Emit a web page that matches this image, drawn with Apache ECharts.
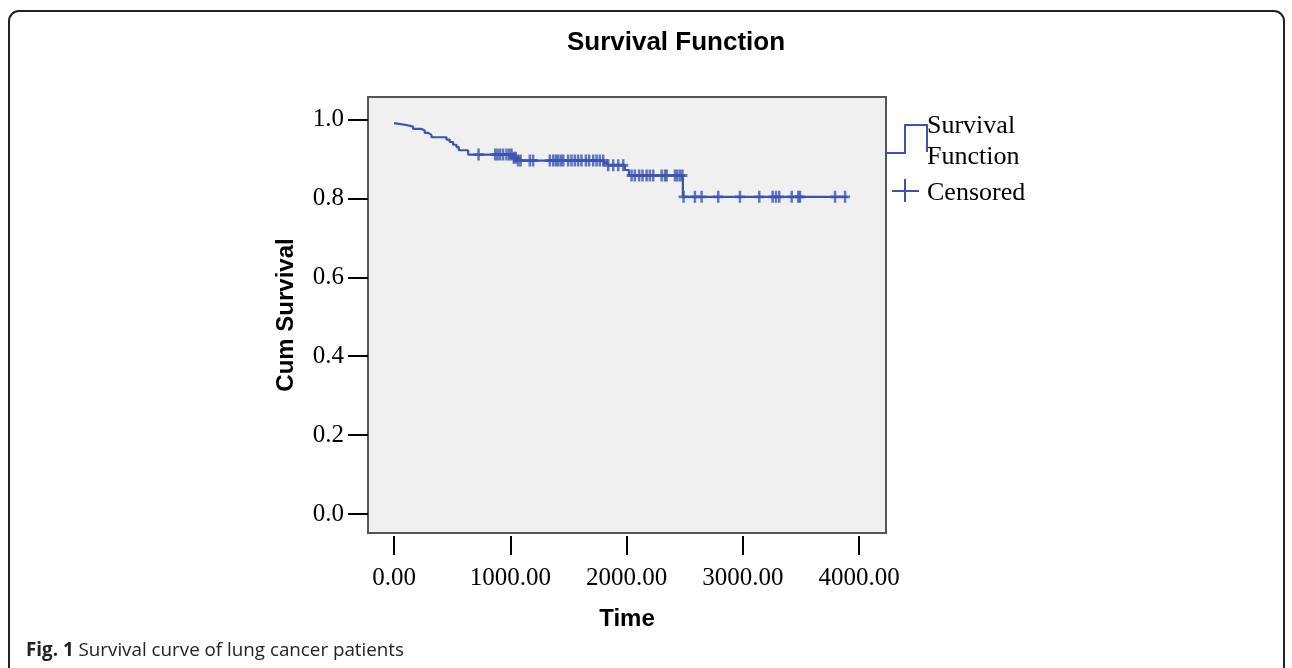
<!DOCTYPE html>
<html>
<head>
<meta charset="utf-8">
<script src="https://cdn.jsdelivr.net/npm/echarts@6/dist/echarts.min.js"></script>
<style>
  html, body { margin: 0; padding: 0; background: #fff; }
  #chart { width: 1292px; height: 668px; }
</style>
</head>
<body>
<div id="chart"></div>
<script>
// ---- data ----
const stepTimes    = [0, 8, 107, 164, 236, 264, 293, 322, 451, 479, 508, 537, 557, 637, 1015, 1055, 1805, 1835, 1985, 2020, 2484];
const stepSurvival = [0.991, 0.986, 0.982, 0.976, 0.972, 0.966, 0.961, 0.955, 0.949, 0.943, 0.936, 0.930, 0.922, 0.911, 0.903, 0.896, 0.890, 0.884, 0.872, 0.858, 0.804];
const lastTime = 3900;
const censoredTimes = [727, 870, 890, 912, 938, 967, 990, 1010, 1030, 1047, 1067, 1088, 1168, 1196,
  1340, 1369, 1392, 1412, 1435, 1455, 1497, 1526, 1555, 1583, 1612, 1650, 1678, 1713, 1742, 1770, 1799,
  1842, 1885, 1928, 1971, 2043, 2071, 2108, 2137, 2172, 2200, 2229, 2301, 2330, 2344, 2416, 2436, 2459, 2480,
  2490, 2588, 2645, 2788, 2975, 3141, 3256, 3285, 3313, 3420, 3477, 3491, 3793, 3879];
const xTicks = [0, 1000, 2000, 3000, 4000];
const yTicks = [0, 0.2, 0.4, 0.6, 0.8, 1.0];

// ---- build series data ----
function survivalAt(t) {
  let v = stepSurvival[0];
  for (let i = 0; i < stepTimes.length; i++) { if (stepTimes[i] <= t) v = stepSurvival[i]; }
  return v;
}
const lineData = stepTimes.map((t, i) => [t, stepSurvival[i]]);
lineData.push([lastTime, stepSurvival[stepSurvival.length - 1]]);
const censorData = censoredTimes.map(t => [t, survivalAt(t)]);

const BLUE = '#3c54ae';
const PLUS = 'path://M0,3.8L10,3.8L10,6.2L0,6.2Z M3.75,0L6.25,0L6.25,10L3.75,10Z';

const chart = echarts.init(document.getElementById('chart'), null, { renderer: 'canvas' });
chart.setOption({
  backgroundColor: '#fff',
  animation: false,
  title: {
    text: 'Survival Function',
    left: 671, top: 25, textAlign: 'center',
    textStyle: { fontFamily: 'Liberation Sans', fontWeight: 'bold', fontSize: 26, color: '#000' }
  },
  grid: {
    left: 368, top: 97, right: 406, bottom: 135,
    show: true, backgroundColor: '#f0f0f0', borderColor: '#555', borderWidth: 2,
    containLabel: false, outerBoundsMode: 'none'
  },
  xAxis: {
    type: 'value', min: -224, max: 4231, offset: 3,
    axisLine: { show: false, onZero: false },
    splitLine: { show: false },
    axisTick: { show: true, length: 19, inside: false, customValues: xTicks, lineStyle: { color: '#000', width: 2 } },
    axisLabel: { customValues: xTicks, margin: 30, formatter: v => v.toFixed(2),
      fontFamily: 'Liberation Serif', fontSize: 25, color: '#000' },
    name: 'Time', nameLocation: 'middle', nameGap: 71,
    nameTextStyle: { fontFamily: 'Liberation Sans', fontWeight: 'bold', fontSize: 24, color: '#000' }
  },
  yAxis: {
    type: 'value', min: -0.048, max: 1.057,
    axisLine: { show: false, onZero: false },
    splitLine: { show: false },
    axisTick: { show: true, length: 20, inside: false, customValues: yTicks, lineStyle: { color: '#000', width: 2 } },
    axisLabel: { customValues: yTicks, margin: 24, formatter: v => v.toFixed(1),
      fontFamily: 'Liberation Serif', fontSize: 25, color: '#000' },
    name: 'Cum Survival', nameLocation: 'middle', nameGap: 70,
    nameTextStyle: { fontFamily: 'Liberation Sans', fontWeight: 'bold', fontSize: 24, color: '#000' }
  },
  series: [
    {
      name: 'Survival Function', type: 'line', step: 'end', data: lineData,
      showSymbol: false, symbol: 'none',
      lineStyle: { color: BLUE, width: 2.2 }, z: 2
    },
    {
      name: 'Censored', type: 'scatter', data: censorData,
      symbol: PLUS, symbolSize: [10, 12],
      itemStyle: { color: BLUE }, z: 3
    }
  ],
  graphic: [
    { type: 'rect', shape: { x: 9, y: 11, width: 1275, height: 720, r: 10 }, silent: true,
      style: { fill: 'none', stroke: '#222', lineWidth: 2 } },
    { type: 'polyline', shape: { points: [[885, 153], [905, 153], [905, 125], [927, 125], [927, 152]] },
      style: { fill: 'none', stroke: BLUE, lineWidth: 2 } },
    { type: 'line', shape: { x1: 892, y1: 191, x2: 919, y2: 191 }, style: { stroke: BLUE, lineWidth: 2 } },
    { type: 'line', shape: { x1: 905, y1: 179, x2: 905, y2: 202 }, style: { stroke: BLUE, lineWidth: 2 } },
    { type: 'text', x: 927, y: 126, style: { text: 'Survival', fontFamily: 'Liberation Serif', fontSize: 26, fill: '#000', verticalAlign: 'middle' } },
    { type: 'text', x: 927, y: 157, style: { text: 'Function', fontFamily: 'Liberation Serif', fontSize: 26, fill: '#000', verticalAlign: 'middle' } },
    { type: 'text', x: 927, y: 193, style: { text: 'Censored', fontFamily: 'Liberation Serif', fontSize: 26, fill: '#000', verticalAlign: 'middle' } },
    { type: 'text', x: 26, y: 651, style: {
        text: '{b|Fig. 1} Survival curve of lung cancer patients',
        fontFamily: 'Open Sans', fontSize: 18.8, fill: '#222', verticalAlign: 'middle',
        rich: { b: { fontFamily: 'Open Sans', fontWeight: 'bold', fontSize: 18.8, fill: '#222' } }
      } }
  ]
});
</script>
</body>
</html>
